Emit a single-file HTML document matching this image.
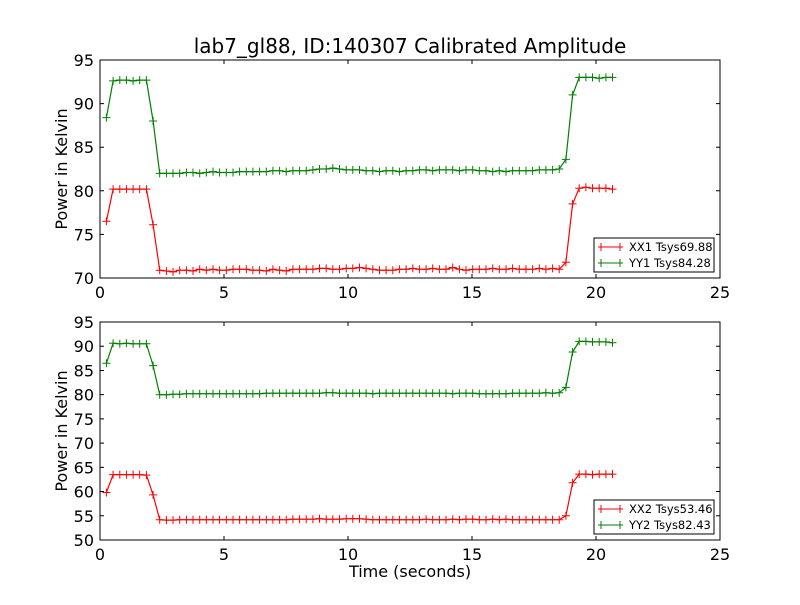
<!DOCTYPE html>
<html><head><meta charset="utf-8"><style>
body{margin:0;background:#fff}
svg text{font-family:"DejaVu Sans","Liberation Sans",sans-serif}
</style></head><body>
<svg id="chart" width="800" height="600" viewBox="0 0 800 600" xmlns="http://www.w3.org/2000/svg">
<rect width="800" height="600" fill="#fff"/>
<text x="410" y="53" font-size="20" text-anchor="middle">lab7_gl88, ID:140307 Calibrated Amplitude</text>
<g id="plots"></g>
</svg>
<script>
const t0 = 0.26, dt = 0.2685;
const xTicks = [0,5,10,15,20,25];
const yTicksTop = [70,75,80,85,90,95];
const yTicksBot = [50,55,60,65,70,75,80,85,90,95];
const xx1 = [76.5,80.2,80.2,80.2,80.2,80.2,80.2,76.1,
70.9,70.8,70.7,70.9,70.9,70.8,71.0,70.9,71.0,70.9,
70.9,71.0,71.0,71.0,70.9,70.9,70.8,71.0,70.9,70.8,
71.0,71.0,71.0,71.0,71.1,71.1,71.0,71.0,71.1,71.1,
71.2,71.1,71.0,70.9,70.9,70.9,71.0,71.0,71.1,71.0,
71.0,71.1,71.0,71.0,71.2,71.0,70.9,71.0,71.0,71.0,
71.1,71.0,71.0,71.1,71.0,71.0,71.0,71.1,71.0,71.1,71.0,
71.8,78.5,80.3,80.4,80.3,80.3,80.3,80.2];
const yy1 = [88.4,92.6,92.7,92.7,92.6,92.7,92.7,88.0,
82.0,82.0,82.0,82.0,82.1,82.1,82.0,82.1,82.2,82.1,
82.1,82.1,82.2,82.2,82.2,82.2,82.2,82.3,82.3,82.2,
82.3,82.3,82.3,82.4,82.5,82.5,82.6,82.5,82.4,82.4,
82.4,82.3,82.3,82.2,82.3,82.3,82.2,82.3,82.3,82.4,
82.4,82.3,82.4,82.4,82.4,82.3,82.4,82.4,82.3,82.3,
82.2,82.3,82.2,82.3,82.3,82.3,82.3,82.4,82.4,82.4,82.5,
83.6,91.0,93.0,93.0,93.0,92.9,93.0,93.0];
const xx2 = [59.8,63.5,63.5,63.5,63.5,63.5,63.4,59.3,
54.2,54.1,54.1,54.2,54.2,54.2,54.2,54.2,54.2,54.2,
54.2,54.2,54.2,54.2,54.2,54.2,54.2,54.2,54.2,54.2,
54.3,54.3,54.3,54.3,54.4,54.3,54.3,54.3,54.4,54.4,
54.4,54.3,54.2,54.2,54.2,54.2,54.2,54.2,54.2,54.2,
54.3,54.2,54.2,54.2,54.3,54.2,54.3,54.3,54.2,54.2,
54.3,54.2,54.3,54.2,54.2,54.2,54.2,54.2,54.2,54.2,54.2,
55.0,61.8,63.6,63.6,63.5,63.6,63.6,63.6];
const yy2 = [86.5,90.6,90.5,90.6,90.5,90.5,90.5,86.0,
80.0,80.0,80.1,80.1,80.2,80.2,80.2,80.2,80.2,80.2,
80.2,80.2,80.2,80.2,80.2,80.2,80.3,80.3,80.3,80.3,
80.3,80.3,80.3,80.3,80.3,80.4,80.4,80.3,80.3,80.3,
80.3,80.3,80.2,80.3,80.3,80.3,80.3,80.3,80.3,80.3,
80.3,80.3,80.3,80.3,80.2,80.3,80.3,80.3,80.2,80.2,
80.2,80.2,80.2,80.3,80.3,80.3,80.3,80.3,80.4,80.3,80.4,
81.5,88.8,91.0,91.0,90.9,90.9,90.9,90.7];
const NS='http://www.w3.org/2000/svg';
const root=document.getElementById('plots');
function el(tag,attrs,parent){const e=document.createElementNS(NS,tag);for(const k in attrs)e.setAttribute(k,attrs[k]);(parent||root).appendChild(e);return e;}
function panel(top,bot,ymin,ymax,yTicks,seriesA,seriesB,labA,labB,name,showXLabel){
  const L=100,R=720;
  const g=el('g',{});
  
  
  const sx=v=>L+(v-0)/(25-0)*(R-L);
  const sy=v=>bot-(v-ymin)/(ymax-ymin)*(bot-top);
  [[seriesA,'#ff0000',labA],[seriesB,'#008000',labB]].forEach(([s,c,lab])=>{
    let d='';s.forEach((v,i)=>{d+=(i?'L':'M')+sx(t0+i*dt).toFixed(1)+','+sy(v).toFixed(1);});
    const p=el('path',{d:d,fill:'none',stroke:c,'stroke-width':1.2},g);
    
    
    let m='';s.forEach((v,i)=>{const x=sx(t0+i*dt),y=sy(v);m+=`M${(x-4).toFixed(1)},${y.toFixed(1)}h8M${x.toFixed(1)},${(y-4).toFixed(1)}v8`;});
    const mk=el('path',{d:m,fill:'none',stroke:c,'stroke-width':1},g);
    
    
  });
  const fr=el('rect',{x:L,y:top,width:R-L,height:bot-top,fill:'none',stroke:'#000','stroke-width':1},g);
  
  
  xTicks.forEach(v=>{const x=sx(v);
    el('path',{d:`M${x},${bot}v-4M${x},${top}v4`,stroke:'#000'},g);
    const t=el('text',{x:x,y:bot+20,'font-size':16,'text-anchor':'middle'},g);t.textContent=v;
    
    
  });
  yTicks.forEach(v=>{const y=sy(v);
    el('path',{d:`M${L},${y}h4M${R},${y}h-4`,stroke:'#000'},g);
    const t=el('text',{x:L-6,y:y+6,'font-size':16,'text-anchor':'end'},g);t.textContent=v;
    
    
  });
  const yl=el('text',{x:0,y:0,'font-size':16,'text-anchor':'middle',transform:`translate(67,${(top+bot)/2}) rotate(-90)`},g);
  yl.textContent='Power in Kelvin';
  
  
  if(showXLabel){const xl=el('text',{x:410,y:bot+37,'font-size':16,'text-anchor':'middle'},g);xl.textContent='Time (seconds)';
    
    }
  const lg=el('g',{},g);
  
  
  el('rect',{x:594,y:bot-40,width:120,height:34,fill:'#fff',stroke:'#000'},lg);
  [[labA,'#ff0000'],[labB,'#008000']].forEach(([lab,c],k)=>{
    const y=bot-31+k*16;
    el('path',{d:`M598,${y}h25M601,${y-4}v8M620,${y-4}v8`,stroke:c,fill:'none'},lg);
    const t=el('text',{x:629,y:y+4,'font-size':11.5},lg);t.textContent=lab;
    
    
  });
}
panel(60,278,70,95,yTicksTop,xx1,yy1,'XX1 Tsys69.88','YY1 Tsys84.28','top-panel',false);
panel(322,540,50,95,yTicksBot,xx2,yy2,'XX2 Tsys53.46','YY2 Tsys82.43','bottom-panel',true);
</script>
</body></html>
